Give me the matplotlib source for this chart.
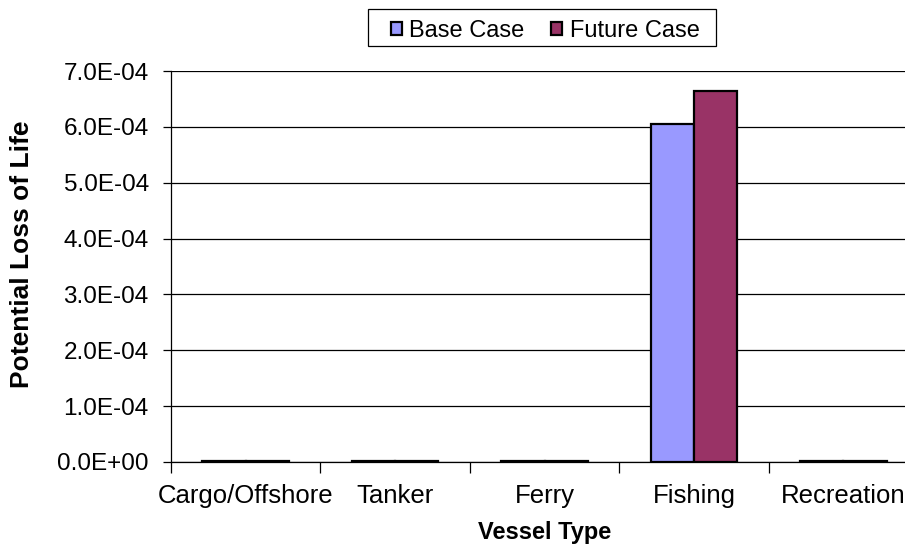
import matplotlib
matplotlib.use("Agg")
import matplotlib.pyplot as plt
import numpy as np
from matplotlib.ticker import FixedLocator, FuncFormatter
from matplotlib.patches import Rectangle

plt.rcParams['font.family'] = ['Liberation Sans', 'DejaVu Sans']

categories = ["Cargo/Offshore", "Tanker", "Ferry", "Fishing", "Recreation"]
base_case = [1.0e-6, 1.5e-6, 1.0e-6, 6.05e-4, 1.0e-6]
future_case = [1.0e-6, 1.5e-6, 1.0e-6, 6.65e-4, 1.0e-6]
y_ticks = [0, 1e-4, 2e-4, 3e-4, 4e-4, 5e-4, 6e-4, 7e-4]
series_names = ["Base Case", "Future Case"]
colors = ["#9999FF", "#993366"]

fig = plt.figure(figsize=(9.05, 5.51), dpi=100)
W, H = 905, 551
left, right, top, bottom = 171, 918, 71, 462
ax = fig.add_axes([left / W, 1 - bottom / H, (right - left) / W, (bottom - top) / H])

x = np.arange(len(categories))
bw = 0.29
ax.bar(x - bw / 2, base_case, bw, color=colors[0], edgecolor="black", linewidth=1.6,
       label=series_names[0], zorder=3)
ax.bar(x + bw / 2, future_case, bw, color=colors[1], edgecolor="black", linewidth=1.6,
       label=series_names[1], zorder=3)

ax.set_xlim(-0.5, len(categories) - 0.5)
ax.set_ylim(0, 7e-4)
ax.set_yticks(y_ticks)
ax.yaxis.set_major_formatter(FuncFormatter(lambda v, p: "%.1E" % v))
ax.grid(axis="y", color="black", linewidth=0.9, zorder=0)
ax.set_axisbelow(True)

ax.set_xticks(x)
ax.set_xticklabels(categories, fontsize=18.5)
ax.xaxis.set_minor_locator(FixedLocator(np.arange(-0.5, len(categories), 1.0)))
ax.tick_params(axis="x", which="major", length=0, pad=16)
ax.tick_params(axis="x", which="minor", length=8, width=0.9, direction="out")
ax.tick_params(axis="y", length=6, width=0.9, labelsize=17.5, pad=10, direction="out")

for s in ["top", "right"]:
    ax.spines[s].set_visible(False)
ax.spines["left"].set_linewidth(0.9)
ax.spines["bottom"].set_linewidth(0.9)

ax.set_xlabel("Vessel Type", fontsize=17, fontweight="bold")
ax.xaxis.set_label_coords((545 - left) / (right - left), -(533 - bottom) / (bottom - top))
ax.xaxis.label.set_va("center")
ax.set_ylabel("Potential Loss of Life", fontsize=19, fontweight="bold")
ax.yaxis.set_label_coords(-(left - 22) / (right - left), (bottom - 254) / (bottom - top))
ax.yaxis.label.set_va("center")

# legend frame
fig.patches.append(Rectangle((368 / W, 1 - 46 / H), (716 - 368) / W, (46 - 9) / H,
                             transform=fig.transFigure, facecolor="white",
                             edgecolor="black", linewidth=0.9, zorder=1))
leg = fig.legend(loc="center", bbox_to_anchor=(545 / W, 1 - 31 / H), ncol=2,
                 frameon=False, fontsize=17, borderaxespad=0,
                 handlelength=0.5, handleheight=0.5, handletextpad=0.3,
                 columnspacing=1.1, borderpad=0.0)
leg.set_zorder(2)

fig.savefig("out.png", dpi=100)
